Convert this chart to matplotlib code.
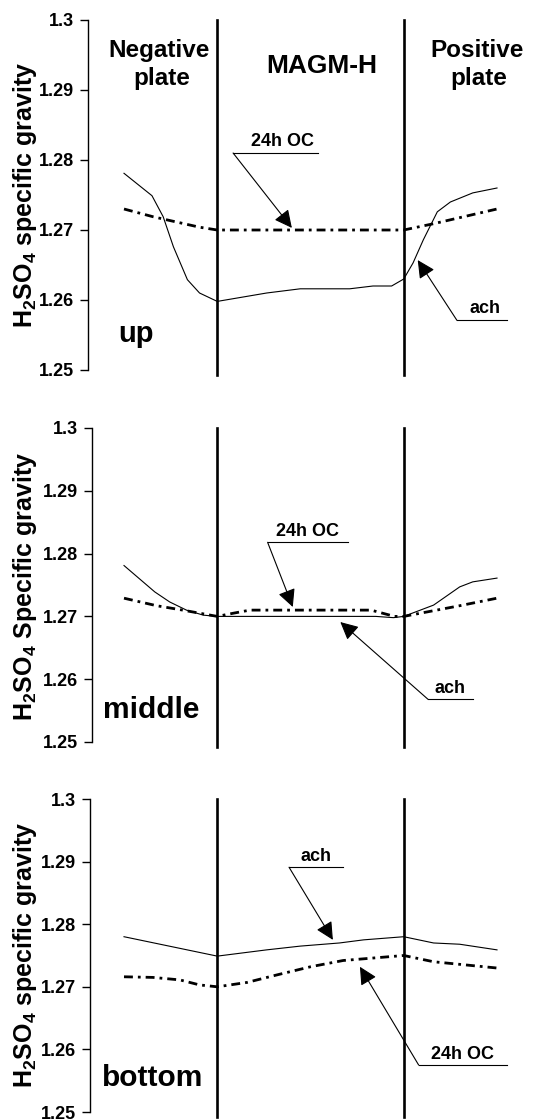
import matplotlib
matplotlib.use("Agg")
import matplotlib.pyplot as plt

plt.rcParams['font.family'] = ['Liberation Sans', 'DejaVu Sans']
plt.rcParams['font.weight'] = 'bold'
plt.rcParams['mathtext.fontset'] = 'custom'
plt.rcParams['mathtext.rm'] = 'Liberation Sans:bold'

# position across the cell: 0-1 negative plate, 1-3 separator, 3-4 positive plate
x_up_ach = [0, 0.30, 0.42, 0.53, 0.68, 0.81, 1.0, 1.53, 1.89, 2.42, 2.67, 2.87, 3.0, 3.10, 3.21, 3.36, 3.50, 3.74, 4.0]
y_up_ach = [1.2781, 1.2749, 1.2719, 1.2676, 1.2629, 1.2610, 1.2598, 1.2610, 1.2616, 1.2616, 1.2620, 1.2620, 1.2630, 1.2653, 1.2686, 1.2726, 1.2740, 1.2753, 1.2760]
x_up_oc = [0, 0.31, 0.81, 1.0, 3.0, 3.32, 4.0]
y_up_oc = [1.2730, 1.2719, 1.2704, 1.2700, 1.2700, 1.2709, 1.2730]

x_mid_ach = [0, 0.33, 0.49, 0.67, 0.85, 1.0, 2.7, 2.89, 3.0, 3.32, 3.6, 3.74, 4.0]
y_mid_ach = [1.2781, 1.2739, 1.2723, 1.2710, 1.2702, 1.2700, 1.2700, 1.2698, 1.2700, 1.2718, 1.2747, 1.2755, 1.2761]
x_mid_oc = [0, 0.35, 0.63, 1.0, 1.17, 1.35, 2.65, 2.9, 3.0, 3.14, 3.6, 4.0]
y_mid_oc = [1.2729, 1.2717, 1.2710, 1.2700, 1.2705, 1.2710, 1.2710, 1.2700, 1.2700, 1.2704, 1.2717, 1.2729]

x_bot_ach = [0, 1.0, 1.53, 1.89, 2.31, 2.57, 3.0, 3.32, 3.6, 4.0]
y_bot_ach = [1.2780, 1.2749, 1.2759, 1.2765, 1.2770, 1.2775, 1.2780, 1.2770, 1.2768, 1.2759]
x_bot_oc = [0, 0.31, 0.6, 0.81, 1.0, 1.32, 1.64, 2.0, 2.35, 3.0, 3.32, 4.0]
y_bot_oc = [1.2716, 1.2715, 1.2711, 1.2703, 1.2700, 1.2707, 1.2719, 1.2732, 1.2742, 1.2750, 1.2740, 1.2730]

yticks = [1.25, 1.26, 1.27, 1.28, 1.29, 1.3]
ytick_labels = ['1.25', '1.26', '1.27', '1.28', '1.29', '1.3']
plate_edges = [1.0, 3.0]

W, H = 537, 1119
fig = plt.figure(figsize=(W / 100, H / 100), dpi=100)

px_per_unit = 93.25
x0_px = 124
right_px = 516


def make_axes(axis_px, top_px, bottom_px):
    ax = fig.add_axes([axis_px / W, 1 - bottom_px / H,
                       (right_px - axis_px) / W, (bottom_px - top_px) / H])
    ax.set_xlim((axis_px - x0_px) / px_per_unit, (right_px - x0_px) / px_per_unit)
    ax.set_ylim(1.25, 1.3)
    for s in ['top', 'right', 'bottom']:
        ax.spines[s].set_visible(False)
    ax.spines['left'].set_linewidth(1.0)
    ax.set_xticks([])
    ax.set_yticks(yticks)
    ax.set_yticklabels(ytick_labels, fontsize=13, fontweight='bold')
    ax.tick_params(axis='y', direction='out', length=6, width=1.0, pad=4)
    for xe in plate_edges:
        ax.axvline(xe, ymin=-0.015, ymax=1.0, color='k', lw=1.9, clip_on=False, zorder=3)
    return ax


def draw_series(ax, xa, ya, xo, yo):
    ax.plot(xa, ya, color='k', lw=0.8, zorder=4)
    ax.plot(xo, yo, color='k', lw=2.0, linestyle=(0, (3.2, 1.8, 1.0, 1.8)), zorder=4)


def callout(ax, label, x1, x2, y, xt, yt, xlab=None):
    ax.plot([x1, x2], [y, y], color='k', lw=0.8, clip_on=False)
    if xlab is None:
        xlab = (x1 + x2) / 2
    ax.text(xlab, y + 0.0004, label, ha='center', va='bottom',
            fontsize=13, fontweight='bold')
    ax.annotate('', xy=(xt, yt), xytext=(x1, y),
                arrowprops=dict(arrowstyle='-|>', color='k', lw=0.8,
                                mutation_scale=27, shrinkA=0, shrinkB=0))


ylabel_size = 18

# up
ax1 = make_axes(88, 20, 370)
draw_series(ax1, x_up_ach, y_up_ach, x_up_oc, y_up_oc)
callout(ax1, '24h OC', 1.17, 2.08, 1.2810, 1.80, 1.2703, xlab=1.705)
callout(ax1, 'ach', 3.57, 4.11, 1.2571, 3.15, 1.2657, xlab=3.87)
ax1.text(-0.06, 1.2552, 'up', ha='left', va='center', fontsize=21, fontweight='bold')
ax1.text(0.375, 1.29471, 'Negative', ha='center', va='baseline', fontsize=17.5, fontweight='bold')
ax1.text(0.41, 1.29071, 'plate', ha='center', va='baseline', fontsize=17.5, fontweight='bold')
ax1.text(3.785, 1.29471, 'Positive', ha='center', va='baseline', fontsize=17.5, fontweight='bold')
ax1.text(3.80, 1.29071, 'plate', ha='center', va='baseline', fontsize=17.5, fontweight='bold')
ax1.text(2.12, 1.29243, 'MAGM-H', ha='center', va='baseline', fontsize=19, fontweight='bold')
fig.text(25 / W, 1 - 195 / H, r'$\mathrm{H_2SO_4}$ specific gravity', rotation=90,
         ha='center', va='center', fontsize=ylabel_size, fontweight='bold')

# middle
ax2 = make_axes(92, 428, 742)
draw_series(ax2, x_mid_ach, y_mid_ach, x_mid_oc, y_mid_oc)
callout(ax2, '24h OC', 1.54, 2.40, 1.2818, 1.81, 1.2715)
callout(ax2, 'ach', 3.26, 3.74, 1.2568, 2.32, 1.2691)
ax2.text(-0.225, 1.2551, 'middle', ha='left', va='center', fontsize=21.5, fontweight='bold')
fig.text(25 / W, 1 - 586 / H, r'$\mathrm{H_2SO_4}$ Specific gravity', rotation=90,
         ha='center', va='center', fontsize=ylabel_size, fontweight='bold')

# bottom
ax3 = make_axes(90, 799, 1112)
draw_series(ax3, x_bot_ach, y_bot_ach, x_bot_oc, y_bot_oc)
callout(ax3, 'ach', 1.77, 2.35, 1.2891, 2.24, 1.2775)
callout(ax3, '24h OC', 3.16, 4.11, 1.2575, 2.53, 1.2732)
ax3.text(-0.236, 1.2554, 'bottom', ha='left', va='center', fontsize=21.5, fontweight='bold')
fig.text(25 / W, 1 - 955 / H, r'$\mathrm{H_2SO_4}$ specific gravity', rotation=90,
         ha='center', va='center', fontsize=ylabel_size, fontweight='bold')

fig.savefig('out.png', dpi=100)
